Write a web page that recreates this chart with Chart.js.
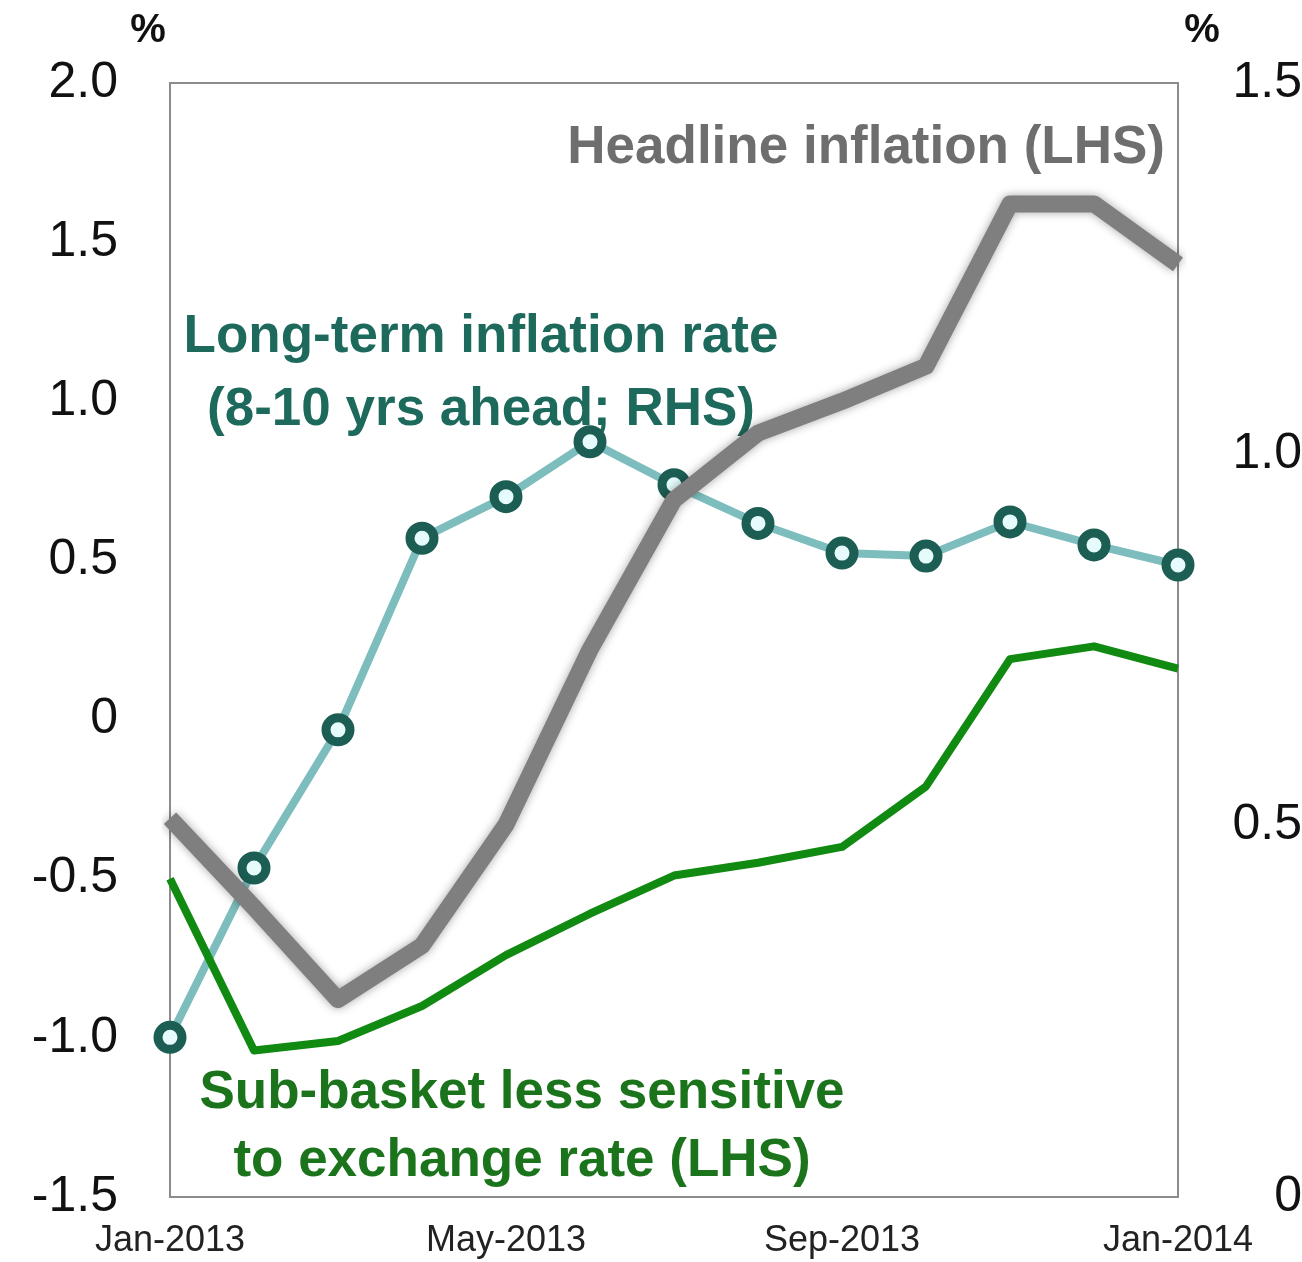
<!DOCTYPE html>
<html lang="en">
<head>
<meta charset="utf-8">
<title>Headline and long-term inflation</title>
<script src="https://cdn.jsdelivr.net/npm/chart.js@4.4.1/dist/chart.umd.min.js"></script>
<style>
  html, body { margin: 0; padding: 0; background: #fff; }
  #wrap { width: 1302px; height: 1262px; }
</style>
</head>
<body>
<div id="wrap"><canvas id="grafico" width="1302" height="1262"></canvas></div>
<script>
// Months on the x axis (one point per month)
const meses = ['Jan-2013', 'Feb-2013', 'Mar-2013', 'Apr-2013', 'May-2013', 'Jun-2013', 'Jul-2013',
  'Aug-2013', 'Sep-2013', 'Oct-2013', 'Nov-2013', 'Dec-2013', 'Jan-2014'];
// Only these months get a label under the axis
const mesesComRotulo = ['Jan-2013', 'May-2013', 'Sep-2013', 'Jan-2014'];

// Series (%)
const headline = [-0.31, -0.59, -0.88, -0.71, -0.33, 0.22, 0.69, 0.90, 1.00, 1.11, 1.62, 1.62, 1.43];     // LHS
const subBasket = [-0.50, -1.04, -1.01, -0.90, -0.74, -0.61, -0.49, -0.45, -0.40, -0.21, 0.19, 0.23, 0.16]; // LHS
const longTerm = [0.215, 0.443, 0.629, 0.887, 0.943, 1.017, 0.959, 0.907, 0.867, 0.863, 0.909, 0.878, 0.851]; // RHS

// Tick values for both y axes
const ticksEsquerda = [-1.5, -1.0, -0.5, 0, 0.5, 1.0, 1.5, 2.0];
const ticksDireita = [0, 0.5, 1.0, 1.5];

// Text written inside the chart
const textoHeadline = ['Headline inflation (LHS)'];
const textoLongTerm = ['Long-term inflation rate', '(8-10 yrs ahead; RHS)'];
const textoSubBasket = ['Sub-basket less sensitive', 'to exchange rate (LHS)'];

const fonte = '"Liberation Sans", Arial, Helvetica, sans-serif';

function formatarTick(v) {
  return v === 0 ? '0' : v.toFixed(1);
}

// Fixed axis size, without the extra room Chart.js keeps for the end labels
function ajustarEixoY(largura) {
  return (scale) => {
    scale.width = largura;
    scale.paddingTop = 0;
    scale.paddingBottom = 0;
  };
}

// Frame around the plot, the % marks and the series labels
const textosPlugin = {
  id: 'textos',
  beforeDatasetsDraw(chart) {
    const { ctx, chartArea: a } = chart;
    ctx.save();
    ctx.strokeStyle = '#8c8c8c';
    ctx.lineWidth = 2;
    ctx.strokeRect(a.left, a.top, a.right - a.left, a.bottom - a.top);

    ctx.fillStyle = '#111';
    ctx.font = 'bold 40px ' + fonte;
    ctx.textAlign = 'center';
    ctx.textBaseline = 'middle';
    ctx.fillText('%', 148, 31);
    ctx.fillText('%', 1202, 31);

    ctx.font = 'bold 53px ' + fonte;
    ctx.textBaseline = 'alphabetic';

    ctx.fillStyle = '#6e6e6e';
    ctx.textAlign = 'right';
    textoHeadline.forEach((t, i) => ctx.fillText(t, 1165, 163 + i * 72));

    ctx.fillStyle = '#1d6a5c';
    ctx.textAlign = 'center';
    textoLongTerm.forEach((t, i) => ctx.fillText(t, 481, 352 + i * 73));

    ctx.fillStyle = '#1b741b';
    textoSubBasket.forEach((t, i) => ctx.fillText(t, 522, 1108 + i * 68));
    ctx.restore();
  }
};

// Soft shadow under the thick grey line
const sombraPlugin = {
  id: 'sombra',
  beforeDatasetDraw(chart, args) {
    if (args.index === 0) {
      chart.ctx.save();
      chart.ctx.shadowColor = 'rgba(0,0,0,0.35)';
      chart.ctx.shadowBlur = 10;
    }
  },
  afterDatasetDraw(chart, args) {
    if (args.index === 0) chart.ctx.restore();
  }
};

const ctx = document.getElementById('grafico').getContext('2d');
const grafico = new Chart(ctx, {
  type: 'line',
  data: {
    labels: meses,
    datasets: [
      {
        label: 'Headline inflation (LHS)',
        data: headline,
        yAxisID: 'y',
        borderColor: '#7f7f7f',
        borderWidth: 17,
        borderJoinStyle: 'round',
        pointRadius: 0,
        tension: 0
      },
      {
        label: 'Sub-basket less sensitive to exchange rate (LHS)',
        data: subBasket,
        yAxisID: 'y',
        borderColor: '#108a10',
        borderWidth: 8,
        borderJoinStyle: 'round',
        pointRadius: 0,
        tension: 0
      },
      {
        label: 'Long-term inflation rate (8-10 yrs ahead; RHS)',
        data: longTerm,
        yAxisID: 'y1',
        borderColor: '#7dbdbd',
        borderWidth: 8,
        pointRadius: 12,
        pointBorderWidth: 9,
        pointBorderColor: '#1c5e54',
        pointBackgroundColor: '#e6fbfb',
        clip: false,
        tension: 0
      }
    ]
  },
  options: {
    responsive: false,
    animation: false,
    layout: { padding: { top: 83, left: 0, right: 0, bottom: 0 } },
    plugins: {
      legend: { display: false },
      tooltip: { enabled: false }
    },
    scales: {
      x: {
        offset: false,
        grid: { display: false, drawTicks: false },
        border: { display: false },
        ticks: {
          autoSkip: false,
          maxRotation: 0,
          padding: 22,
          color: '#222',
          font: { family: fonte, size: 36 },
          callback: function (value) {
            const rotulo = this.getLabelForValue(value);
            return mesesComRotulo.includes(rotulo) ? rotulo : '';
          }
        },
        afterFit: (scale) => {
          scale.height = 65;
          scale.paddingLeft = 0;
          scale.paddingRight = 0;
        }
      },
      y: {
        position: 'left',
        min: -1.5,
        max: 2.0,
        grid: { display: false, drawTicks: false },
        border: { display: false },
        afterBuildTicks: (axis) => { axis.ticks = ticksEsquerda.map(v => ({ value: v })); },
        ticks: {
          padding: 52,
          color: '#111',
          font: { family: fonte, size: 50 },
          callback: formatarTick
        },
        afterFit: ajustarEixoY(170)
      },
      y1: {
        position: 'right',
        min: 0,
        max: 1.5,
        grid: { display: false, drawTicks: false },
        border: { display: false },
        afterBuildTicks: (axis) => { axis.ticks = ticksDireita.map(v => ({ value: v })); },
        ticks: {
          padding: 49,
          crossAlign: 'far',
          color: '#111',
          font: { family: fonte, size: 50 },
          callback: formatarTick
        },
        afterFit: ajustarEixoY(124)
      }
    }
  },
  plugins: [textosPlugin, sombraPlugin]
});
</script>
</body>
</html>
